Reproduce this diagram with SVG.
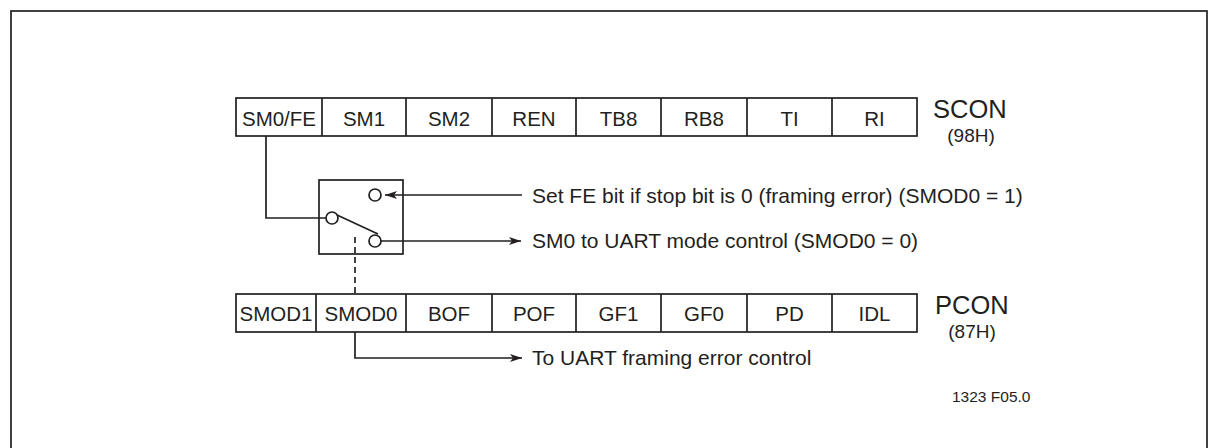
<svg xmlns="http://www.w3.org/2000/svg" width="1215" height="448" viewBox="0 0 1215 448">
<style>
.ln{fill:none;stroke:#231f20;stroke-width:1.7}
.cell{fill:#fff;stroke:#231f20;stroke-width:1.7}
.t{font-family:"Liberation Sans",Arial,sans-serif;fill:#231f20}
.c{font-size:20.5px;text-anchor:middle}
.lbl{font-size:21px}
.reg{font-size:25.5px}
.addr{font-size:19px;text-anchor:middle}
</style>
<defs>
<marker id="ah" viewBox="0 0 12 8" refX="12" refY="4" markerWidth="12" markerHeight="8" markerUnits="userSpaceOnUse" orient="auto">
<path d="M0,0 L12,4 L0,8 L3,4 Z" fill="#231f20"/>
</marker>
</defs>
<rect x="11" y="11" width="1196" height="450" class="ln" stroke-width="2"/>
<g id="scon">
<rect x="236" y="98" width="681" height="38" class="cell"/>
<path class="ln" d="M322,98V136M406,98V136M492,98V136M576,98V136M661,98V136M747,98V136M832,98V136"/>
<text class="t c" x="279" y="125.5">SM0/FE</text>
<text class="t c" x="364" y="125.5">SM1</text>
<text class="t c" x="449" y="125.5">SM2</text>
<text class="t c" x="534" y="125.5">REN</text>
<text class="t c" x="618.5" y="125.5">TB8</text>
<text class="t c" x="704" y="125.5">RB8</text>
<text class="t c" x="789.5" y="125.5">TI</text>
<text class="t c" x="874.5" y="125.5">RI</text>
<text class="t reg" x="933" y="118">SCON</text>
<text class="t addr" x="971" y="142">(98H)</text>
</g>
<g id="pcon">
<rect x="236" y="294" width="681" height="38" class="cell"/>
<path class="ln" d="M316,294V332M406,294V332M492,294V332M576,294V332M661,294V332M747,294V332M832,294V332"/>
<text class="t c" x="276" y="321">SMOD1</text>
<text class="t c" x="361" y="321">SMOD0</text>
<text class="t c" x="449" y="321">BOF</text>
<text class="t c" x="534" y="321">POF</text>
<text class="t c" x="618.5" y="321">GF1</text>
<text class="t c" x="704" y="321">GF0</text>
<text class="t c" x="789.5" y="321">PD</text>
<text class="t c" x="874.5" y="321">IDL</text>
<text class="t reg" x="935" y="314">PCON</text>
<text class="t addr" x="972" y="338">(87H)</text>
</g>
<g id="switch">
<rect x="319" y="180" width="84" height="74" class="ln"/>
<circle cx="375" cy="195" r="6" class="cell"/>
<circle cx="332" cy="218" r="6" class="cell"/>
<circle cx="375" cy="241" r="6" class="cell"/>
<line x1="337" y1="215" x2="378" y2="234" class="ln"/>
</g>
<g id="connectors">
<path class="ln" d="M266,136V218H326"/>
<path class="ln" d="M522,195H385" marker-end="url(#ah)"/>
<path class="ln" d="M381,241H521" marker-end="url(#ah)"/>
<path class="ln" d="M355,237V294" stroke-dasharray="6,4"/>
<path class="ln" d="M355,332V358H522" marker-end="url(#ah)"/>
</g>
<g id="labels">
<text class="t lbl" x="532" y="203">Set FE bit if stop bit is 0 (framing error) (SMOD0 = 1)</text>
<text class="t lbl" x="532" y="248">SM0 to UART mode control (SMOD0 = 0)</text>
<text class="t lbl" x="532" y="365">To UART framing error control</text>
<text class="t" x="952" y="402" font-size="15.5px">1323 F05.0</text>
</g>
</svg>
